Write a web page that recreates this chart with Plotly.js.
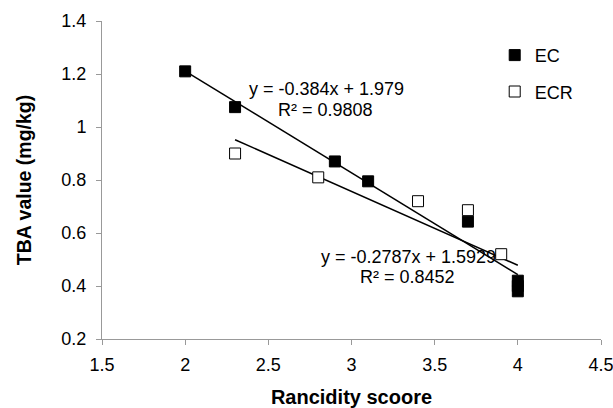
<!DOCTYPE html>
<html>
<head>
<meta charset="utf-8">
<script src="https://cdn.plot.ly/plotly-3.0.1.min.js"></script>
<style>html,body{margin:0;padding:0;background:#fff;}#chart{width:613px;height:408px;}</style>
</head>
<body>
<div id="chart"></div>
<script>
// Data
const ecX = [2, 2.3, 2.9, 3.1, 3.7, 4, 4];
const ecY = [1.21, 1.075, 0.87, 0.795, 0.643, 0.42, 0.38];
const ecrX = [2.3, 2.8, 3.4, 3.7, 3.9, 4];
const ecrY = [0.90, 0.81, 0.72, 0.686, 0.52, 0.40];
// Trendline equations as printed on the chart
const ecSlope = -0.384, ecIntercept = 1.979;
const ecrSlope = -0.2787, ecrIntercept = 1.5929;
const ecLabel = ["y = -0.384x + 1.979", "R\u00b2 = 0.9808"];
const ecrLabel = ["y = -0.2787x + 1.5929", "R\u00b2 = 0.8452"];
const xTicks = [1.5, 2, 2.5, 3, 3.5, 4, 4.5];
const xTickText = ["1.5", "2", "2.5", "3", "3.5", "4", "4.5"];
const yTicks = [0.2, 0.4, 0.6, 0.8, 1, 1.2, 1.4];
const yTickText = ["0.2", "0.4", "0.6", "0.8", "1", "1.2", "1.4"];

function trend(xs, m, b) {
  const lo = Math.min(...xs), hi = Math.max(...xs);
  return {x: [lo, hi], y: [m * lo + b, m * hi + b]};
}
const ecT = trend(ecX, ecSlope, ecIntercept);
const ecrT = trend(ecrX, ecrSlope, ecrIntercept);

const FONT = "Arial, 'Liberation Sans', sans-serif";

const traces = [
  {x: ecT.x, y: ecT.y, mode: 'lines', line: {color: '#000', width: 1.5}, showlegend: false, hoverinfo: 'skip'},
  {x: ecrT.x, y: ecrT.y, mode: 'lines', line: {color: '#000', width: 1.5}, showlegend: false, hoverinfo: 'skip'},
  {x: ecrX, y: ecrY, mode: 'markers', name: 'ECR', legendgroup: 'b', legendrank: 2,
   marker: {symbol: 'square', size: 11, color: '#fff', line: {color: '#000', width: 1}}},
  {x: ecX, y: ecY, mode: 'markers', name: 'EC', legendgroup: 'a', legendrank: 1,
   marker: {symbol: 'square', size: 11, color: '#000', line: {color: '#000', width: 1}}}
];

const annFont = {family: FONT, size: 18, color: '#000'};
const layout = {
  width: 613, height: 408,
  margin: {l: 102, r: 12, t: 21, b: 69},
  paper_bgcolor: '#fff', plot_bgcolor: '#fff',
  font: {family: FONT, size: 18, color: '#000'},
  showlegend: true,
  legend: {x: 0.787, y: 0.95, xanchor: 'left', yanchor: 'top', traceorder: 'grouped',
           tracegroupgap: 10, font: {family: FONT, size: 18, color: '#000'}, bgcolor: 'rgba(0,0,0,0)'},
  xaxis: {
    range: [1.5, 4.5], tickvals: xTicks, ticktext: xTickText,
    showgrid: false, zeroline: false, showline: true, linecolor: '#999', linewidth: 1,
    ticks: 'outside', ticklen: 5, tickcolor: '#999', ticklabelstandoff: 4,
    ticklabeloverflow: 'allow',
    tickfont: {family: FONT, size: 18, color: '#000'},
    title: {text: 'Rancidity scoore', font: {family: FONT, size: 20, color: '#000', weight: 'bold'}, standoff: 17},
    automargin: false
  },
  yaxis: {
    range: [0.2, 1.4], tickvals: yTicks, ticktext: yTickText,
    showgrid: false, zeroline: false, showline: true, linecolor: '#999', linewidth: 1,
    ticks: 'outside', ticklen: 5, tickcolor: '#999', ticklabelstandoff: 6,
    tickfont: {family: FONT, size: 18, color: '#000'},
    title: {text: 'TBA value (mg/kg)', font: {family: FONT, size: 19.5, color: '#000', weight: 'bold'}, standoff: 24},
    automargin: false
  },
  annotations: [
    {x: 2.847, y: 1.143, xref: 'x', yref: 'y', text: ecLabel[0], showarrow: false, font: annFont},
    {x: 2.844, y: 1.064, xref: 'x', yref: 'y', text: ecLabel[1], showarrow: false, font: annFont},
    {x: 3.341, y: 0.510, xref: 'x', yref: 'y', text: ecrLabel[0], showarrow: false, font: annFont},
    {x: 3.335, y: 0.435, xref: 'x', yref: 'y', text: ecrLabel[1], showarrow: false, font: annFont}
  ]
};

Plotly.newPlot('chart', traces, layout, {displayModeBar: false, staticPlot: true});
</script>
</body>
</html>
